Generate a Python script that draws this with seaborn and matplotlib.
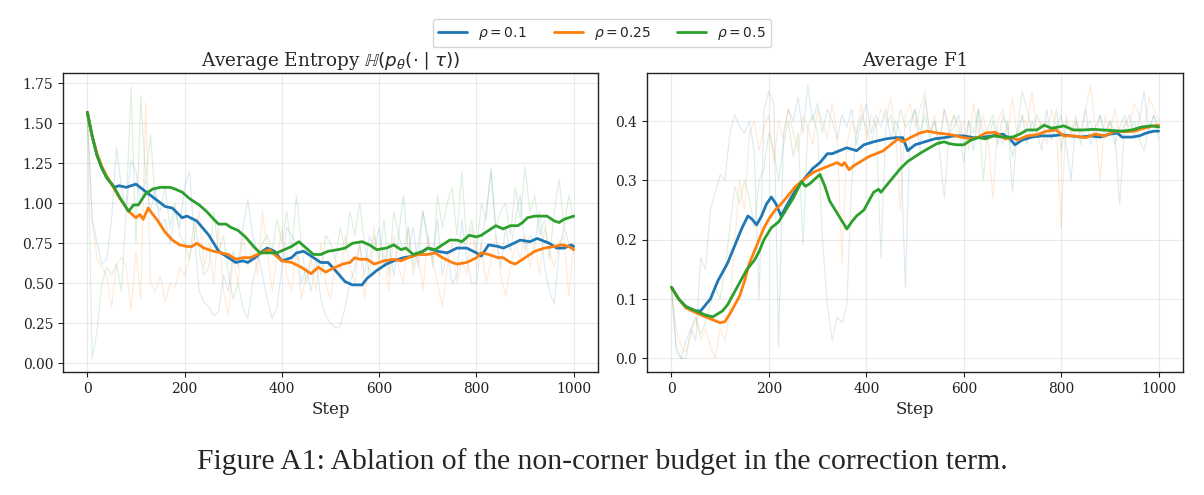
import numpy as np
import pandas as pd
import matplotlib
matplotlib.use("Agg")
import matplotlib.pyplot as plt
import seaborn as sns

# ---------------- data ----------------
series_labels = [r"$\rho = 0.1$", r"$\rho = 0.25$", r"$\rho = 0.5$"]
colors = ["#1f77b4", "#ff7f0e", "#2ca02c"]

raw_steps = list(range(0, 1001, 10))

ent_raw_01 = [1.57, 0.9, 0.75, 0.62, 0.65, 0.9, 1.35, 1.1, 0.95, 1.27, 1.2, 1.0, 1.15, 0.95, 1.1, 0.85, 0.9, 0.75, 0.95, 0.85,
              1.1, 1.2, 0.8, 0.45, 0.38, 0.35, 0.3, 0.32, 0.55, 0.45, 0.7, 0.6, 0.85, 1.02, 0.8, 0.7, 0.55, 0.4, 0.28, 0.35,
              0.6, 0.85, 0.8, 0.75, 0.5, 0.6, 0.45, 0.65, 0.4, 0.3, 0.25, 0.22, 0.23, 0.35, 0.5, 0.6, 0.75, 0.55, 0.8, 0.7,
              0.85, 0.6, 0.75, 0.55, 0.8, 1.05, 0.7, 0.85, 0.6, 0.95, 0.75, 0.65, 0.9, 0.55, 0.7, 0.5, 0.55, 0.9, 0.65, 0.5,
              0.5, 0.75, 0.95, 1.2, 0.8, 0.6, 0.85, 0.7, 0.9, 1.05, 0.7, 0.8, 0.75, 0.95, 0.6, 0.45, 0.37, 0.7, 0.85, 0.75, 0.7]
ent_raw_025 = [1.57, 0.9, 0.65, 0.6, 0.55, 0.35, 0.62, 0.66, 0.6, 0.33, 0.7, 0.4, 1.63, 0.5, 0.45, 0.55, 0.38, 0.5, 0.47, 0.6,
               0.55, 0.65, 0.8, 0.95, 0.6, 0.75, 0.5, 0.85, 0.45, 0.3, 0.65, 0.5, 0.8, 0.6, 0.75, 0.55, 0.95, 0.7, 0.45, 0.65,
               0.85, 0.55, 0.45, 0.7, 0.4, 0.55, 0.65, 0.45, 0.75, 0.5, 0.4, 0.65, 0.55, 0.8, 0.6, 0.5, 0.75, 0.4, 0.65, 0.85,
               0.55, 0.7, 0.45, 0.8, 0.6, 0.5, 0.85, 0.55, 0.7, 0.45, 0.8, 0.65, 0.5, 0.35, 0.6, 0.75, 0.5, 0.65, 0.55, 0.85,
               0.6, 0.75, 0.5, 0.65, 0.8, 0.55, 0.42, 0.6, 0.75, 0.65, 0.8, 0.6, 0.75, 0.55, 0.85, 0.7, 0.6, 0.75, 0.8, 0.42, 0.75]
ent_raw_05 = [1.57, 0.03, 0.2, 0.5, 0.6, 0.55, 0.62, 0.45, 0.95, 1.73, 0.75, 1.67, 1.15, 1.43, 1.0, 0.95, 1.1, 0.85, 1.0, 0.8,
              0.75, 0.65, 0.9, 0.7, 0.55, 0.6, 0.95, 0.7, 0.8, 0.55, 0.4, 0.5, 0.35, 0.28, 0.5, 0.65, 0.75, 0.8, 0.7, 0.9,
              0.75, 0.95, 0.7, 1.05, 0.75, 0.5, 0.65, 0.7, 0.55, 0.8, 0.75, 0.65, 0.85, 0.7, 0.95, 0.8, 1.0, 0.75, 0.55, 0.8,
              0.65, 0.9, 0.55, 0.95, 0.8, 0.7, 0.85, 0.6, 0.75, 0.95, 0.8, 0.6, 1.05, 0.85, 1.0, 1.1, 0.8, 1.2, 0.75, 0.9,
              0.7, 1.0, 0.9, 1.22, 0.85, 0.95, 1.0, 0.8, 1.1, 0.9, 1.23, 0.95, 1.05, 0.8, 0.9, 0.65, 0.95, 1.15, 0.85, 1.05, 0.9]

f1_raw_01 = [0.12, 0.02, 0.0, 0.03, 0.05, 0.03, 0.17, 0.15, 0.25, 0.28, 0.31, 0.3, 0.38, 0.41, 0.39, 0.38, 0.4, 0.35, 0.1, 0.42,
             0.45, 0.43, 0.02, 0.38, 0.42, 0.4, 0.44, 0.38, 0.46, 0.4, 0.43, 0.38, 0.42, 0.4, 0.37, 0.41, 0.39, 0.42, 0.36, 0.4,
             0.43, 0.38, 0.41, 0.39, 0.42, 0.37, 0.4, 0.38, 0.12, 0.39, 0.42, 0.35, 0.44, 0.38, 0.4, 0.36, 0.42, 0.38, 0.39, 0.41,
             0.36, 0.4, 0.35, 0.42, 0.38, 0.37, 0.4, 0.36, 0.41, 0.39, 0.34, 0.38, 0.41, 0.36, 0.4, 0.38, 0.35, 0.42, 0.37, 0.39,
             0.41, 0.36, 0.3, 0.4, 0.38, 0.42, 0.36, 0.39, 0.41, 0.37, 0.4, 0.38, 0.26, 0.39, 0.41, 0.37, 0.4, 0.45, 0.38, 0.41, 0.39]
f1_raw_025 = [0.12, 0.05, 0.02, 0.01, 0.04, 0.07, 0.03, 0.05, 0.02, 0.0, 0.05, 0.03, 0.08, 0.2, 0.3, 0.25, 0.38, 0.4, 0.35, 0.39,
              0.41, 0.33, 0.4, 0.37, 0.42, 0.38, 0.35, 0.41, 0.39, 0.36, 0.42, 0.4, 0.37, 0.43, 0.38, 0.16, 0.36, 0.4, 0.38, 0.43,
              0.37, 0.41, 0.39, 0.42, 0.4, 0.44, 0.38, 0.25, 0.41, 0.43, 0.39, 0.42, 0.45, 0.38, 0.41, 0.36, 0.42, 0.39, 0.41, 0.37,
              0.4, 0.35, 0.43, 0.38, 0.41, 0.37, 0.27, 0.4, 0.42, 0.38, 0.44, 0.37, 0.41, 0.39, 0.45, 0.38, 0.4, 0.36, 0.42, 0.39,
              0.22, 0.41, 0.38, 0.4, 0.37, 0.42, 0.46, 0.39, 0.3, 0.41, 0.38, 0.42, 0.37, 0.4, 0.39, 0.43, 0.41, 0.38, 0.44, 0.42, 0.4]
f1_raw_05 = [0.12, 0.01, 0.0, 0.0, 0.05, 0.07, 0.04, 0.06, 0.09, 0.12, 0.1, 0.15, 0.22, 0.29, 0.26, 0.3, 0.27, 0.22, 0.3, 0.32,
             0.38, 0.35, 0.3, 0.36, 0.4, 0.34, 0.38, 0.19, 0.39, 0.41, 0.38, 0.2, 0.09, 0.03, 0.07, 0.06, 0.09, 0.3, 0.38, 0.41,
             0.39, 0.36, 0.4, 0.17, 0.39, 0.41, 0.37, 0.42, 0.39, 0.4, 0.42, 0.38, 0.41, 0.37, 0.4, 0.35, 0.27, 0.38, 0.41, 0.39,
             0.33, 0.4, 0.38, 0.42, 0.3, 0.39, 0.41, 0.38, 0.36, 0.4, 0.28, 0.39, 0.45, 0.42, 0.38, 0.41, 0.39, 0.4, 0.37, 0.42,
             0.35, 0.4, 0.38, 0.41, 0.36, 0.39, 0.4, 0.37, 0.41, 0.38, 0.4, 0.36, 0.39, 0.41, 0.38, 0.4, 0.37, 0.35, 0.39, 0.41, 0.37]

# smoothed curves
ent_s_x_01 = [0, 10, 20, 30, 40, 56, 65, 80, 100, 130, 160, 175, 195, 205, 225, 250, 270, 290, 305, 320, 330, 345, 360, 370,
              385, 400, 420, 430, 445, 465, 480, 495, 510, 530, 545, 565, 575, 595, 615, 630, 650, 670, 690, 700, 720, 740,
              760, 780, 800, 810, 825, 845, 855, 870, 890, 910, 925, 950, 965, 980, 995, 1000]
ent_s_y_01 = [1.57, 1.42, 1.30, 1.22, 1.16, 1.10, 1.11, 1.10, 1.12, 1.05, 0.98, 0.97, 0.91, 0.92, 0.89, 0.80, 0.70, 0.66,
              0.63, 0.64, 0.63, 0.66, 0.70, 0.72, 0.70, 0.64, 0.66, 0.69, 0.70, 0.66, 0.63, 0.63, 0.58, 0.51, 0.49, 0.49,
              0.53, 0.58, 0.62, 0.64, 0.66, 0.67, 0.70, 0.72, 0.70, 0.69, 0.72, 0.72, 0.69, 0.67, 0.74, 0.73, 0.72, 0.74,
              0.77, 0.76, 0.78, 0.75, 0.72, 0.72, 0.74, 0.73]
ent_s_x_025 = [0, 10, 20, 30, 40, 50, 65, 85, 100, 108, 115, 125, 145, 160, 175, 190, 205, 215, 225, 240, 260, 275, 290, 305,
               320, 335, 350, 365, 375, 385, 400, 420, 440, 460, 475, 490, 510, 525, 540, 550, 560, 575, 590, 610, 630, 645,
               660, 680, 700, 715, 730, 750, 760, 780, 800, 810, 825, 845, 855, 870, 880, 900, 920, 940, 960, 975, 990, 1000]
ent_s_y_025 = [1.57, 1.42, 1.31, 1.23, 1.17, 1.12, 1.04, 0.95, 0.91, 0.93, 0.90, 0.97, 0.89, 0.82, 0.77, 0.74, 0.73, 0.73,
               0.75, 0.72, 0.70, 0.69, 0.68, 0.65, 0.66, 0.66, 0.68, 0.70, 0.71, 0.68, 0.64, 0.63, 0.60, 0.56, 0.60, 0.57,
               0.60, 0.62, 0.63, 0.66, 0.65, 0.65, 0.62, 0.64, 0.65, 0.64, 0.66, 0.68, 0.68, 0.69, 0.66, 0.63, 0.62, 0.63,
               0.66, 0.69, 0.68, 0.66, 0.66, 0.63, 0.62, 0.66, 0.70, 0.72, 0.73, 0.74, 0.73, 0.71]
ent_s_x_05 = [0, 10, 20, 30, 40, 55, 70, 85, 95, 105, 120, 135, 150, 170, 180, 195, 210, 230, 245, 260, 270, 285, 295, 310,
              325, 345, 355, 375, 390, 405, 420, 435, 450, 465, 480, 495, 515, 530, 545, 565, 580, 595, 615, 630, 645, 655,
              670, 690, 700, 715, 730, 745, 760, 770, 785, 800, 810, 825, 840, 855, 870, 885, 895, 905, 920, 945, 960, 970,
              980, 990, 1000]
ent_s_y_05 = [1.57, 1.42, 1.30, 1.22, 1.16, 1.10, 1.02, 0.95, 0.99, 0.99, 1.06, 1.09, 1.10, 1.10, 1.09, 1.07, 1.03, 0.99,
              0.95, 0.90, 0.87, 0.87, 0.85, 0.83, 0.79, 0.72, 0.69, 0.69, 0.69, 0.71, 0.73, 0.76, 0.72, 0.68, 0.68, 0.70,
              0.71, 0.72, 0.75, 0.76, 0.74, 0.71, 0.72, 0.74, 0.71, 0.72, 0.68, 0.70, 0.72, 0.71, 0.74, 0.77, 0.77, 0.76,
              0.80, 0.79, 0.80, 0.83, 0.86, 0.84, 0.86, 0.86, 0.88, 0.91, 0.92, 0.92, 0.89, 0.88, 0.90, 0.91, 0.92]

f1_s_x_01 = [0, 15, 30, 50, 60, 70, 80, 95, 115, 130, 145, 157, 165, 175, 185, 195, 205, 215, 225, 235, 245, 260, 275, 290,
             305, 320, 330, 345, 360, 380, 395, 415, 440, 460, 475, 485, 500, 520, 540, 560, 580, 600, 620, 640, 660, 680,
             695, 705, 720, 740, 760, 780, 800, 820, 840, 860, 880, 900, 915, 925, 945, 960, 975, 990, 1000]
f1_s_y_01 = [0.12, 0.10, 0.087, 0.08, 0.08, 0.09, 0.10, 0.13, 0.16, 0.19, 0.22, 0.24, 0.235, 0.225, 0.24, 0.26, 0.272,
             0.26, 0.24, 0.255, 0.27, 0.29, 0.305, 0.32, 0.33, 0.345, 0.345, 0.35, 0.355, 0.35, 0.36, 0.365, 0.37, 0.372,
             0.372, 0.35, 0.36, 0.365, 0.37, 0.372, 0.375, 0.375, 0.372, 0.373, 0.375, 0.378, 0.37, 0.36, 0.368, 0.373,
             0.375, 0.375, 0.377, 0.375, 0.373, 0.375, 0.373, 0.378, 0.38, 0.373, 0.373, 0.375, 0.38, 0.383, 0.383]
f1_s_x_025 = [0, 15, 30, 50, 70, 85, 100, 110, 120, 130, 140, 150, 160, 170, 180, 190, 200, 213, 225, 240, 255, 270, 285,
              295, 310, 325, 340, 350, 355, 365, 375, 395, 405, 420, 435, 450, 465, 475, 490, 510, 525, 545, 565, 580, 600,
              615, 630, 645, 665, 685, 700, 710, 730, 750, 770, 790, 805, 825, 850, 870, 890, 910, 930, 950, 970, 990, 1000]
f1_s_y_025 = [0.12, 0.10, 0.085, 0.077, 0.07, 0.065, 0.06, 0.062, 0.075, 0.09, 0.105, 0.13, 0.16, 0.18, 0.20, 0.22, 0.235,
              0.25, 0.26, 0.275, 0.29, 0.30, 0.31, 0.315, 0.32, 0.325, 0.33, 0.325, 0.33, 0.318, 0.325, 0.335, 0.34, 0.345,
              0.35, 0.36, 0.37, 0.365, 0.372, 0.38, 0.383, 0.38, 0.378, 0.376, 0.372, 0.37, 0.373, 0.38, 0.381, 0.37, 0.372,
              0.368, 0.375, 0.377, 0.383, 0.385, 0.375, 0.375, 0.372, 0.378, 0.375, 0.383, 0.382, 0.383, 0.388, 0.392, 0.393]
f1_s_x_05 = [0, 15, 30, 50, 70, 85, 95, 105, 115, 125, 135, 145, 155, 170, 180, 190, 205, 220, 235, 250, 262, 267, 275, 285,
             298, 305, 315, 325, 340, 355, 360, 370, 380, 395, 405, 415, 425, 430, 440, 455, 470, 485, 500, 515, 530, 545,
             560, 570, 585, 600, 615, 630, 645, 660, 680, 700, 715, 730, 750, 765, 780, 795, 805, 825, 845, 865, 885, 905,
             925, 945, 965, 985, 1000]
f1_s_y_05 = [0.12, 0.10, 0.087, 0.08, 0.073, 0.07, 0.075, 0.08, 0.09, 0.105, 0.12, 0.135, 0.15, 0.165, 0.18, 0.20, 0.22,
             0.23, 0.25, 0.27, 0.29, 0.298, 0.29, 0.295, 0.305, 0.31, 0.29, 0.265, 0.245, 0.225, 0.218, 0.23, 0.24, 0.25,
             0.265, 0.28, 0.285, 0.28, 0.29, 0.305, 0.32, 0.332, 0.34, 0.348, 0.355, 0.362, 0.365, 0.362, 0.36, 0.36,
             0.368, 0.372, 0.37, 0.375, 0.373, 0.373, 0.378, 0.385, 0.385, 0.393, 0.388, 0.39, 0.392, 0.385, 0.385, 0.386,
             0.385, 0.384, 0.383, 0.385, 0.39, 0.392, 0.39]

titles = [r"Average Entropy $\mathbb{H}(p_\theta(\cdot \mid \tau))$", "Average F1"]
xlabel = "Step"
caption = "Figure A1: Ablation of the non-corner budget in the correction term."

# ---------------- plot ----------------
sns.set_style("white")
plt.rcParams["font.family"] = ["DejaVu Serif"]
plt.rcParams["mathtext.fontset"] = "dejavusans"

fig = plt.figure(figsize=(12.04, 4.95), dpi=100)
ax1 = fig.add_axes([0.0523, 0.2485, 0.4444, 0.604])
ax2 = fig.add_axes([0.5374, 0.2485, 0.4452, 0.604])

panels = [
    (ax1, [ent_raw_01, ent_raw_025, ent_raw_05],
     [(ent_s_x_01, ent_s_y_01), (ent_s_x_025, ent_s_y_025), (ent_s_x_05, ent_s_y_05)]),
    (ax2, [f1_raw_01, f1_raw_025, f1_raw_05],
     [(f1_s_x_01, f1_s_y_01), (f1_s_x_025, f1_s_y_025), (f1_s_x_05, f1_s_y_05)]),
]

for ax, raws, smooths in panels:
    for raw, col in zip(raws, colors):
        df = pd.DataFrame({"step": raw_steps, "val": raw})
        sns.lineplot(data=df, x="step", y="val", ax=ax, color=col, alpha=0.16,
                     linewidth=0.8, estimator=None, sort=False, legend=False)
    for (sx, sy), col, lab in zip(smooths, colors, series_labels):
        df = pd.DataFrame({"step": sx, "val": sy})
        sns.lineplot(data=df, x="step", y="val", ax=ax, color=col, linewidth=2.0,
                     estimator=None, sort=False, label=lab)
    ax.set_xlim(-50, 1050)
    ax.grid(True, color="#dddddd", alpha=0.6, linewidth=0.8)
    ax.set_xlabel(xlabel, fontsize=12)
    ax.set_ylabel("")
    ax.tick_params(axis="both", labelsize=10, length=3.5, width=0.8, colors="#222222", left=True, bottom=True)
    for s in ax.spines.values():
        s.set_color("#222222")
        s.set_linewidth(1.0)
    ax.set_xticks([0, 200, 400, 600, 800, 1000])

ax1.set_ylim(-0.055, 1.815)
ax1.set_yticks([0.0, 0.25, 0.5, 0.75, 1.0, 1.25, 1.5, 1.75])
ax1.set_yticklabels(["0.00", "0.25", "0.50", "0.75", "1.00", "1.25", "1.50", "1.75"])
ax2.set_ylim(-0.023, 0.481)
ax2.set_yticks([0.0, 0.1, 0.2, 0.3, 0.4])
ax1.set_title(titles[0], fontsize=13.2, pad=5)
ax2.set_title(titles[1], fontsize=13.2, pad=5)

handles, labels = ax1.get_legend_handles_labels()
ax1.get_legend().remove()
ax2.get_legend().remove()
fig.legend(handles, labels, loc="upper center", bbox_to_anchor=(0.5, 0.975), ncol=3,
           prop={"family": "DejaVu Sans", "size": 10}, frameon=True, columnspacing=1.9,
           handlelength=2.1, borderpad=0.4)

fig.text(0.5, 0.068, caption, ha="center", va="center", fontsize=21.3, family="Liberation Serif")

fig.savefig("out.png", dpi=100)
